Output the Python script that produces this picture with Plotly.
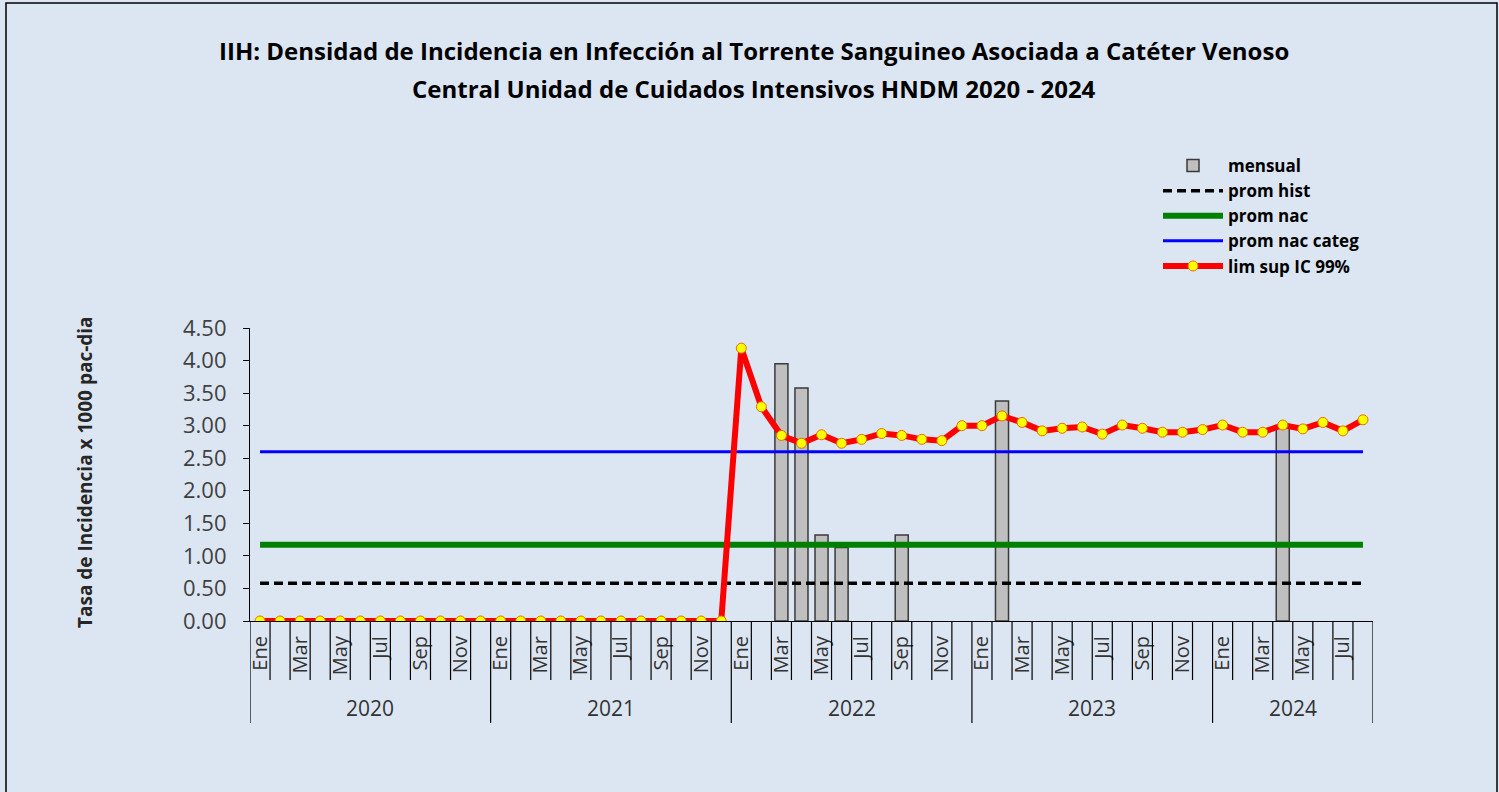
import plotly.graph_objects as go

# ---------------- data ----------------
YEARS = [2020, 2021, 2022, 2023, 2024]
MONTHS = ["Ene", "Feb", "Mar", "Abr", "May", "Jun", "Jul", "Ago", "Sep", "Oct", "Nov", "Dic"]
MONTHS_PER_YEAR = [12, 12, 12, 12, 8]

# monthly incidence density (bars), 0 = no event
mensual = (
    [0] * 24
    + [0, 0, 3.95, 3.58, 1.32, 1.13, 0, 0, 1.32, 0, 0, 0]
    + [0, 3.38, 0, 0, 0, 0, 0, 0, 0, 0, 0, 0]
    + [0, 0, 0, 2.97, 0, 0, 0, 0]
)
prom_hist_value = 0.58
prom_nac_value = 1.17
prom_nac_categ_value = 2.60
lim_sup = (
    [0] * 24
    + [4.19, 3.29, 2.85, 2.73, 2.86, 2.73, 2.79, 2.88, 2.85, 2.79, 2.77, 3.00]
    + [3.00, 3.15, 3.05, 2.92, 2.96, 2.98, 2.87, 3.01, 2.96, 2.90, 2.90, 2.94]
    + [3.01, 2.90, 2.90, 3.01, 2.95, 3.05, 2.92, 3.09]
)
Y_TICKS = [0, 0.5, 1, 1.5, 2, 2.5, 3, 3.5, 4, 4.5]
SHOWN_MONTHS = ["Ene", "Mar", "May", "Jul", "Sep", "Nov"]

# ---------------- categories ----------------
cats, cat_month = [], []
for yr, n in zip(YEARS, MONTHS_PER_YEAR):
    for m in MONTHS[:n]:
        cats.append(f"{m}-{yr}")
        cat_month.append(m)
N = len(cats)
tickvals = [c for c, m in zip(cats, cat_month) if m in SHOWN_MONTHS]
ticktext = [m for m in cat_month if m in SHOWN_MONTHS]

# ---------------- layout geometry ----------------
W, H = 1499, 792
ML, MR, MT, MB = 250, 126, 328, 171
PW, PH = W - ML - MR, H - MT - MB


def px_x(px):
    return (px - ML) / PW


def px_y(py):
    return (H - MB - py) / PH


FONT = "Open Sans"
TXT = "#262626"
BG = "#dce6f2"

fig = go.Figure()
fig.add_trace(go.Bar(
    x=cats, y=[v if v else None for v in mensual], name="mensual",
    marker=dict(color="#bfbfbf", line=dict(color="#3a3a3a", width=1.5)),
))
fig.add_trace(go.Scatter(
    x=cats, y=[prom_hist_value] * N, name="prom hist", mode="lines",
    line=dict(color="black", width=3.5, dash="9px,5px"),
))
fig.add_trace(go.Scatter(
    x=cats, y=[prom_nac_value] * N, name="prom nac", mode="lines",
    line=dict(color="#008000", width=6),
))
fig.add_trace(go.Scatter(
    x=cats, y=[prom_nac_categ_value] * N, name="prom nac categ", mode="lines",
    line=dict(color="#0000ff", width=3),
))
fig.add_trace(go.Scatter(
    x=cats, y=lim_sup, name="lim sup IC 99%", mode="lines+markers",
    line=dict(color="#ff0000", width=6),
    marker=dict(color="#ffff00", size=10, line=dict(color="#e07000", width=1)),
))

shapes = []
# month dividers (category boundaries)
year_bounds = [0]
for n in MONTHS_PER_YEAR:
    year_bounds.append(year_bounds[-1] + n)
for i in range(N + 1):
    is_year = i in year_bounds
    shapes.append(dict(
        type="line", xref="x", yref="paper", x0=i - 0.5, x1=i - 0.5,
        y0=0, y1=px_y(723 if is_year else 680),
        line=dict(color="black", width=1.2),
    ))
# outer border
shapes.append(dict(
    type="rect", xref="paper", yref="paper",
    x0=px_x(6), x1=px_x(1497), y0=px_y(800), y1=px_y(3),
    line=dict(color="black", width=1.5), fillcolor="rgba(0,0,0,0)", layer="below",
))

annotations = []
for k, yr in enumerate(YEARS):
    mid = (year_bounds[k] + year_bounds[k + 1]) / 2 - 0.5
    annotations.append(dict(
        x=mid, xref="x", y=px_y(708), yref="paper", text=str(yr),
        showarrow=False, font=dict(family=FONT, size=21, color="#333333"),
        yanchor="middle", xanchor="center",
    ))
annotations.append(dict(
    x=px_x(754), xref="paper", y=px_y(50), yref="paper",
    text="<b>IIH: Densidad de Incidencia en Infección al Torrente Sanguineo Asociada a Catéter Venoso</b>",
    showarrow=False, font=dict(family=FONT, size=24, color="black"),
    xanchor="center", yanchor="middle",
))
annotations.append(dict(
    x=px_x(754), xref="paper", y=px_y(88), yref="paper",
    text="<b>Central Unidad de Cuidados Intensivos HNDM 2020 - 2024</b>",
    showarrow=False, font=dict(family=FONT, size=24, color="black"),
    xanchor="center", yanchor="middle",
))
annotations.append(dict(
    x=px_x(85), xref="paper", y=px_y(472), yref="paper",
    text="<b>Tasa de Incidencia x 1000 pac-dia</b>", textangle=-90,
    showarrow=False, font=dict(family=FONT, size=19, color=TXT),
    xanchor="center", yanchor="middle",
))

fig.update_layout(
    width=W, height=H, autosize=False,
    margin=dict(l=ML, r=MR, t=MT, b=MB, pad=0),
    paper_bgcolor=BG, plot_bgcolor=BG,
    font=dict(family=FONT, color=TXT),
    bargap=0.35, showlegend=True,
    legend=dict(
        x=px_x(1158), y=px_y(148), xanchor="left", yanchor="top",
        bgcolor="rgba(0,0,0,0)", font=dict(family=FONT, size=17, color="black", weight="bold"),
        tracegroupgap=0, itemwidth=60,
    ),
    xaxis=dict(
        type="category", categoryorder="array", categoryarray=cats,
        range=[-0.5, N - 0.5], tickvals=tickvals, ticktext=ticktext,
        tickangle=-90, ticks="", showgrid=False, zeroline=False,
        showline=True, linecolor="black", linewidth=1.2,
        tickfont=dict(family=FONT, size=20, color="#333333"),
        ticklabelstandoff=6,
    ),
    yaxis=dict(
        range=[0, 4.5], tickvals=Y_TICKS, tickformat=".2f",
        ticks="outside", ticklen=6, tickcolor="black",
        showgrid=False, zeroline=False, showline=True, linecolor="black", linewidth=1.2,
        tickfont=dict(family=FONT, size=22, color="#404040"),
        ticklabelstandoff=12,
    ),
    shapes=shapes, annotations=annotations,
)

fig.write_html(
    "out.html",
    config={"displayModeBar": False},
    post_script="document.body.style.margin='0';document.body.style.overflow='hidden';",
)
